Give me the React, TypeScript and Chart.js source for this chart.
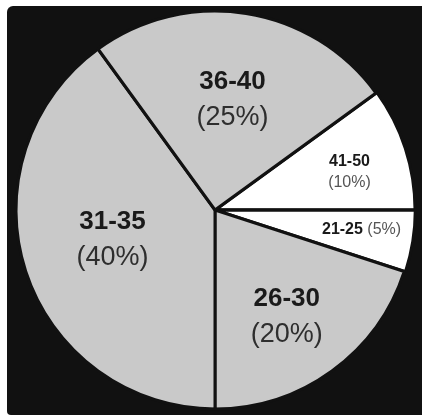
import { useEffect, useRef } from "react";
import { Chart, ArcElement, PieController } from "chart.js";

Chart.register(ArcElement, PieController);

// Data (clockwise, starting at the upper edge of the 41-50 slice)
const categories = ["41-50", "21-25", "26-30", "31-35", "36-40"];
const shares = [10, 5, 20, 40, 25];
const percentLabels = ["(10%)", "(5%)", "(20%)", "(40%)", "(25%)"];

// Styling
const sliceColors = ["#ffffff", "#ffffff", "#c9c9c9", "#c9c9c9", "#c9c9c9"];
const sliceOffsets = [3, 3, 0, 0, 0];
const bigLabel = [false, false, true, true, true];
const inlineLabel = [false, true, false, false, false];
const labelRadius = [0.703, 0.743, 0.645, 0.536, 0.562];
const labelAngleShift = [2, -1.4, 2, 2, 0];
const FONT = '"Liberation Sans", Arial, Helvetica, sans-serif';

const panelPlugin = {
  id: "panel",
  beforeDraw(chart: any) {
    const ctx = chart.ctx as CanvasRenderingContext2D;
    ctx.save();
    ctx.fillStyle = "#ffffff";
    ctx.fillRect(0, 0, chart.width, chart.height);
    ctx.fillStyle = "#111111";
    ctx.beginPath();
    (ctx as any).roundRect(7, 6, 415, 409, [6, 0, 0, 4]);
    ctx.fill();
    ctx.restore();
  },
};

const labelPlugin = {
  id: "sliceLabels",
  afterDatasetsDraw(chart: any) {
    const ctx = chart.ctx as CanvasRenderingContext2D;
    const meta = chart.getDatasetMeta(0);
    ctx.save();
    ctx.textBaseline = "middle";
    meta.data.forEach((arc: any, i: number) => {
      const p = arc.getProps(["x", "y", "startAngle", "endAngle", "outerRadius"], true);
      const mid = (p.startAngle + p.endAngle) / 2 + (labelAngleShift[i] * Math.PI) / 180;
      const r = p.outerRadius * labelRadius[i];
      const cx = p.x + Math.cos(mid) * r;
      const cy = p.y + Math.sin(mid) * r;
      if (inlineLabel[i]) {
        ctx.font = `bold 16px ${FONT}`;
        const w1 = ctx.measureText(categories[i]).width;
        ctx.font = `16px ${FONT}`;
        const gap = ctx.measureText(" ").width;
        const w2 = ctx.measureText(percentLabels[i]).width;
        const start = cx - (w1 + gap + w2) / 2;
        ctx.textAlign = "left";
        ctx.font = `bold 16px ${FONT}`;
        ctx.fillStyle = "#1a1a1a";
        ctx.fillText(categories[i], start, cy);
        ctx.font = `16px ${FONT}`;
        ctx.fillStyle = "#555555";
        ctx.fillText(percentLabels[i], start + w1 + gap, cy);
      } else if (bigLabel[i]) {
        ctx.textAlign = "center";
        ctx.font = `bold 26px ${FONT}`;
        ctx.fillStyle = "#1a1a1a";
        ctx.fillText(categories[i], cx, cy - 18);
        ctx.font = `27px ${FONT}`;
        ctx.fillStyle = "#2e2e2e";
        ctx.fillText(percentLabels[i], cx, cy + 18);
      } else {
        ctx.textAlign = "center";
        ctx.font = `bold 16px ${FONT}`;
        ctx.fillStyle = "#1a1a1a";
        ctx.fillText(categories[i], cx, cy - 10);
        ctx.font = `16px ${FONT}`;
        ctx.fillStyle = "#555555";
        ctx.fillText(percentLabels[i], cx, cy + 11);
      }
    });
    ctx.restore();
  },
};

export default function App() {
  const ref = useRef<HTMLCanvasElement | null>(null);
  useEffect(() => {
    if (!ref.current) return;
    const chart = new Chart(ref.current, {
      type: "pie",
      data: {
        labels: categories,
        datasets: [
          {
            data: shares,
            backgroundColor: sliceColors,
            borderColor: "#111111",
            borderWidth: 3,
            offset: sliceOffsets,
          },
        ],
      },
      options: {
        animation: false,
        responsive: false,
        events: [],
        rotation: 54,
        layout: { padding: { left: 13, right: 5, top: 8, bottom: 7 } },
        plugins: {
          legend: { display: false },
          tooltip: { enabled: false },
        },
      },
      plugins: [panelPlugin, labelPlugin],
    });
    return () => chart.destroy();
  }, []);
  return (
    <div style={{ position: "fixed", left: 0, top: 0, width: 422, height: 419 }}>
      <canvas ref={ref} width={422} height={419} style={{ width: 422, height: 419 }} />
    </div>
  );
}
